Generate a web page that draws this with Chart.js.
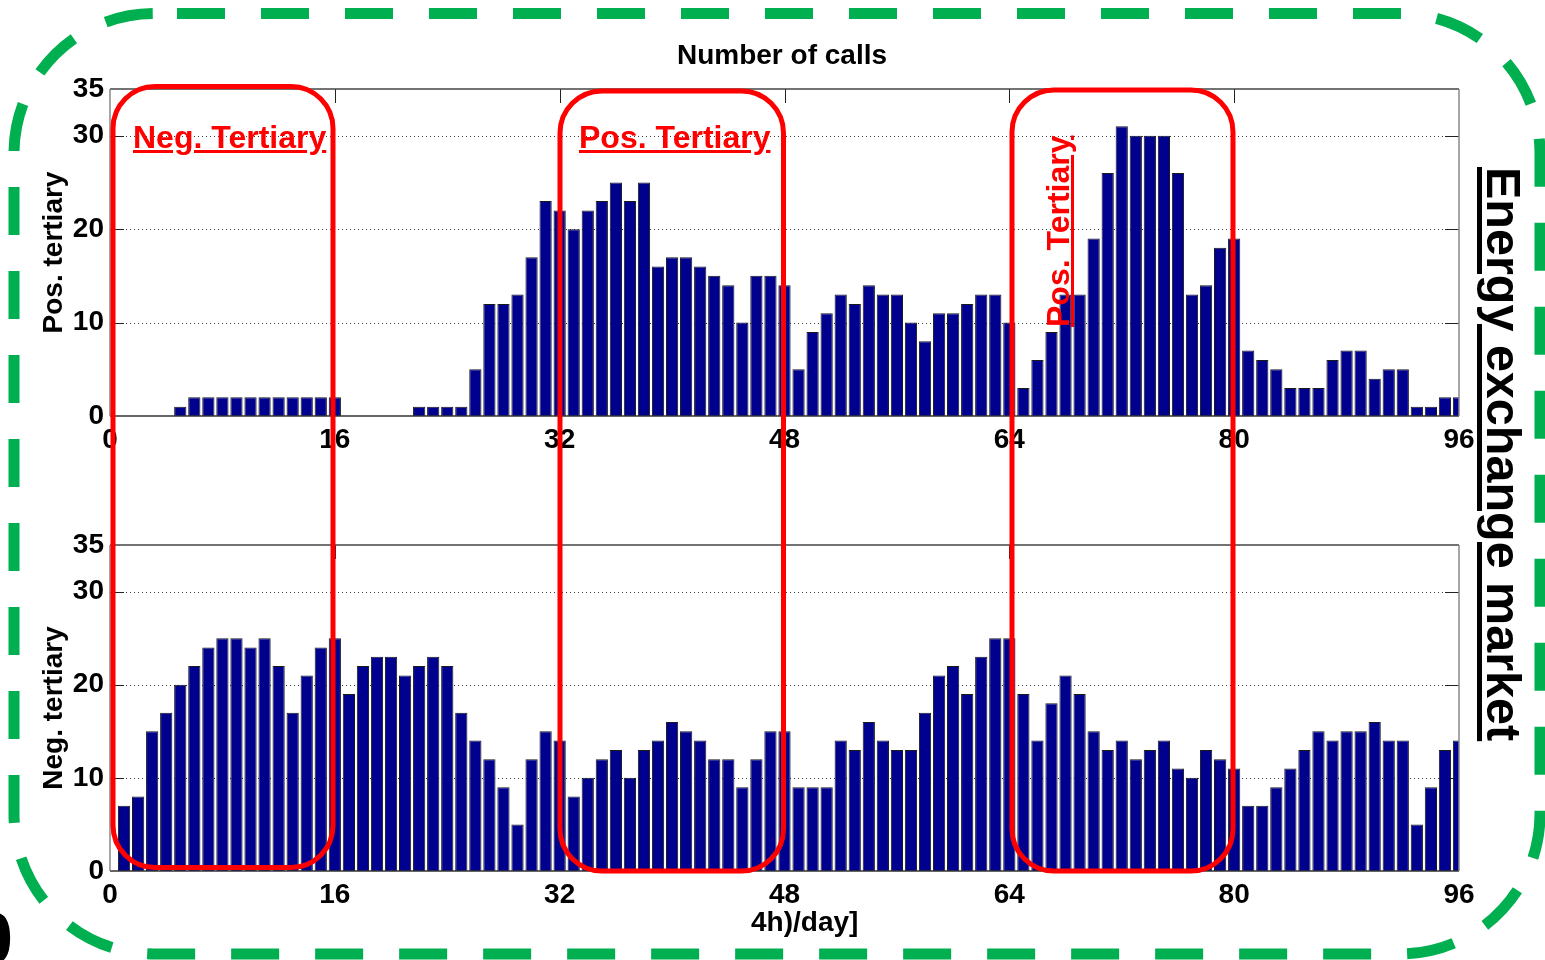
<!DOCTYPE html>
<html>
<head>
<meta charset="utf-8">
<script src="https://cdn.jsdelivr.net/npm/chart.js@4.4.0/dist/chart.umd.min.js"></script>
<style>
html,body{margin:0;padding:0;background:#fff;overflow:hidden;}
#page{position:relative;width:1545px;height:960px;overflow:hidden;background:#fff;font-family:"Liberation Sans",Arial,Helvetica,sans-serif;}
canvas{position:absolute;left:0;}
#c1{top:0;}
#c2{top:460px;}
#overlay{top:0;pointer-events:none;}
.txt{position:absolute;white-space:nowrap;line-height:1;font-weight:bold;color:#000;}
.red{color:#ff0000;font-size:32px;text-decoration:underline;text-decoration-thickness:3px;text-underline-offset:2px;}
</style>
</head>
<body>
<div id="page">
  <canvas id="c1" width="1545" height="470"></canvas>
  <canvas id="c2" width="1545" height="500"></canvas>
  <canvas id="overlay" width="1545" height="960"></canvas>
  <div class="txt" style="left:582px;top:41px;width:400px;text-align:center;font-size:28px;">Number of calls</div>
  <div class="txt red" style="left:133px;top:121px;">Neg. Tertiary</div>
  <div class="txt red" style="left:579px;top:121px;">Pos. Tertiary</div>
  <div class="txt red" style="left:1042px;top:327px;transform-origin:0 0;transform:rotate(-90deg);">Pos. Tertiary</div>
  <div class="txt" style="left:1528px;top:167px;font-size:48.5px;transform-origin:0 0;transform:rotate(90deg);text-decoration:underline;text-decoration-thickness:5px;text-underline-offset:5px;">Energy exchange market</div>
  <div class="txt" style="left:751px;top:908px;font-size:28px;">4h)/day]</div>
  <div class="txt" style="left:-28px;top:902px;font-size:74px;">0</div>
</div>
<script>
// ---- data ----
const slots = Array.from({length: 96}, (_, i) => i + 1);   // quarter-hour slot index
const xTicks = [0, 16, 32, 48, 64, 80, 96];
const yTicks = [0, 10, 20, 30, 35];
const gridVals = [10, 20, 30];

const posTertiary = [
  0, 0, 0, 0, 1, 2, 2, 2, 2, 2, 2, 2, 2, 2, 2, 2,
  0, 0, 0, 0, 0, 1, 1, 1, 1, 5, 12, 12, 13, 17, 23, 22,
  20, 22, 23, 25, 23, 25, 16, 17, 17, 16, 15, 14, 10, 15, 15, 14,
  5, 9, 11, 13, 12, 14, 13, 13, 10, 8, 11, 11, 12, 13, 13, 10,
  3, 6, 9, 13, 13, 19, 26, 31, 30, 30, 30, 26, 13, 14, 18, 19,
  7, 6, 5, 3, 3, 3, 6, 7, 7, 4, 5, 5, 1, 1, 2, 2
];
const negTertiary = [
  7, 8, 15, 17, 20, 22, 24, 25, 25, 24, 25, 22, 17, 21, 24, 25,
  19, 22, 23, 23, 21, 22, 23, 22, 17, 14, 12, 9, 5, 12, 15, 14,
  8, 10, 12, 13, 10, 13, 14, 16, 15, 14, 12, 12, 9, 12, 15, 15,
  9, 9, 9, 14, 13, 16, 14, 13, 13, 17, 21, 22, 19, 23, 25, 25,
  19, 14, 18, 21, 19, 15, 13, 14, 12, 13, 14, 11, 10, 13, 12, 11,
  7, 7, 9, 11, 13, 15, 14, 15, 15, 16, 14, 14, 5, 9, 13, 14
];
const yTitles = ['Pos. tertiary', 'Neg. tertiary'];

// ---- style ----
const FONT = '"Liberation Sans", Arial, Helvetica, sans-serif';
const BAR_COLOR = '#00008f';
Chart.defaults.font.family = FONT;

const framePlugin = {
  id: 'frame',
  beforeDatasetsDraw(chart) {
    const {ctx, chartArea: a, scales: {x, y}} = chart;
    ctx.save();
    ctx.strokeStyle = '#3a3a3a';
    ctx.lineWidth = 1;
    ctx.setLineDash([1, 3]);
    gridVals.forEach(v => {
      const py = Math.round(y.getPixelForValue(v)) + 0.5;
      ctx.beginPath(); ctx.moveTo(a.left, py); ctx.lineTo(a.right, py); ctx.stroke();
    });
    ctx.setLineDash([]);
    ctx.strokeStyle = '#222';
    gridVals.forEach(v => {
      const py = Math.round(y.getPixelForValue(v)) + 0.5;
      ctx.beginPath(); ctx.moveTo(a.left, py); ctx.lineTo(a.left + 14, py); ctx.stroke();
      ctx.beginPath(); ctx.moveTo(a.right - 14, py); ctx.lineTo(a.right, py); ctx.stroke();
    });
    xTicks.slice(1, -1).forEach(v => {
      const px = Math.round(x.getPixelForValue(v)) + 0.5;
      ctx.beginPath(); ctx.moveTo(px, a.top); ctx.lineTo(px, a.top + 14); ctx.stroke();
      ctx.beginPath(); ctx.moveTo(px, a.bottom - 14); ctx.lineTo(px, a.bottom); ctx.stroke();
    });
    ctx.restore();
  },
  afterDatasetsDraw(chart) {
    const {ctx, chartArea: a} = chart;
    ctx.save();
    ctx.lineWidth = 1.5;
    ctx.strokeStyle = '#444';
    ctx.beginPath(); ctx.moveTo(a.left, a.top); ctx.lineTo(a.right, a.top); ctx.stroke();
    ctx.strokeStyle = '#333';
    ctx.beginPath(); ctx.moveTo(a.left, a.bottom); ctx.lineTo(a.right, a.bottom); ctx.stroke();
    ctx.strokeStyle = '#888';
    ctx.beginPath(); ctx.moveTo(a.left, a.top); ctx.lineTo(a.left, a.bottom); ctx.stroke();
    ctx.beginPath(); ctx.moveTo(a.right, a.top); ctx.lineTo(a.right, a.bottom); ctx.stroke();
    ctx.restore();
  }
};

function makeChart(id, values, yTitle, padTop, axisH) {
  return new Chart(document.getElementById(id), {
    type: 'bar',
    data: {
      datasets: [{
        data: slots.map((s, i) => ({x: s, y: values[i]})),
        backgroundColor: BAR_COLOR,
        borderColor: '#1a1a1a',
        borderWidth: 1,
        barPercentage: 0.87,
        categoryPercentage: 1,
        clip: 0
      }]
    },
    options: {
      responsive: false,
      animation: false,
      layout: {padding: {top: padTop, right: 86, left: 0, bottom: 0}},
      plugins: {legend: {display: false}, tooltip: {enabled: false}, title: {display: false}},
      scales: {
        x: {
          type: 'linear', min: 0, max: 96, offset: false,
          grid: {display: false, drawTicks: false, offset: false},
          border: {display: false},
          afterBuildTicks: s => { s.ticks = xTicks.map(v => ({value: v})); },
          afterFit: s => { s.height = axisH; },
          ticks: {autoSkip: false, maxRotation: 0, minRotation: 0, padding: 7, color: '#000',
                  font: {family: FONT, size: 28, weight: 'bold'}}
        },
        y: {
          type: 'linear', min: 0, max: 35,
          grid: {display: false, drawTicks: false},
          border: {display: false},
          afterBuildTicks: s => { s.ticks = yTicks.map(v => ({value: v})); },
          afterFit: s => { s.width = 110; },
          ticks: {padding: 6, color: '#000', font: {family: FONT, size: 28, weight: 'bold'}},
          title: {display: true, text: yTitle, color: '#000',
                  font: {family: FONT, size: 28, weight: 'bold'}, padding: {top: 37, bottom: 0}}
        }
      }
    },
    plugins: [framePlugin]
  });
}

makeChart('c1', posTertiary, yTitles[0], 89, 54);
makeChart('c2', negTertiary, yTitles[1], 85, 89);

// ---- overlay decorations ----
function rrPath(ctx, x, y, w, h, r) {
  ctx.beginPath();
  ctx.moveTo(x + r, y);
  ctx.lineTo(x + w - r, y);
  ctx.arc(x + w - r, y + r, r, -Math.PI / 2, 0);
  ctx.lineTo(x + w, y + h - r);
  ctx.arc(x + w - r, y + h - r, r, 0, Math.PI / 2);
  ctx.lineTo(x + r, y + h);
  ctx.arc(x + r, y + h - r, r, Math.PI / 2, Math.PI);
  ctx.lineTo(x, y + r);
  ctx.arc(x + r, y + r, r, Math.PI, Math.PI * 1.5);
  ctx.closePath();
}
const ov = document.getElementById('overlay').getContext('2d');
ov.save();
ov.strokeStyle = '#00b050';
ov.lineWidth = 11;
ov.setLineDash([48, 36]);
ov.lineDashOffset = 61;
rrPath(ov, 14, 13.5, 1526, 940.5, 140);
ov.stroke();
ov.restore();

ov.save();
ov.strokeStyle = '#ff0000';
ov.lineWidth = 5;
rrPath(ov, 113, 86.5, 220, 781, 42);
ov.stroke();
rrPath(ov, 560, 91, 223.5, 780, 42);
ov.stroke();
rrPath(ov, 1012, 90, 221, 781, 42);
ov.stroke();
ov.restore();
</script>
</body>
</html>
